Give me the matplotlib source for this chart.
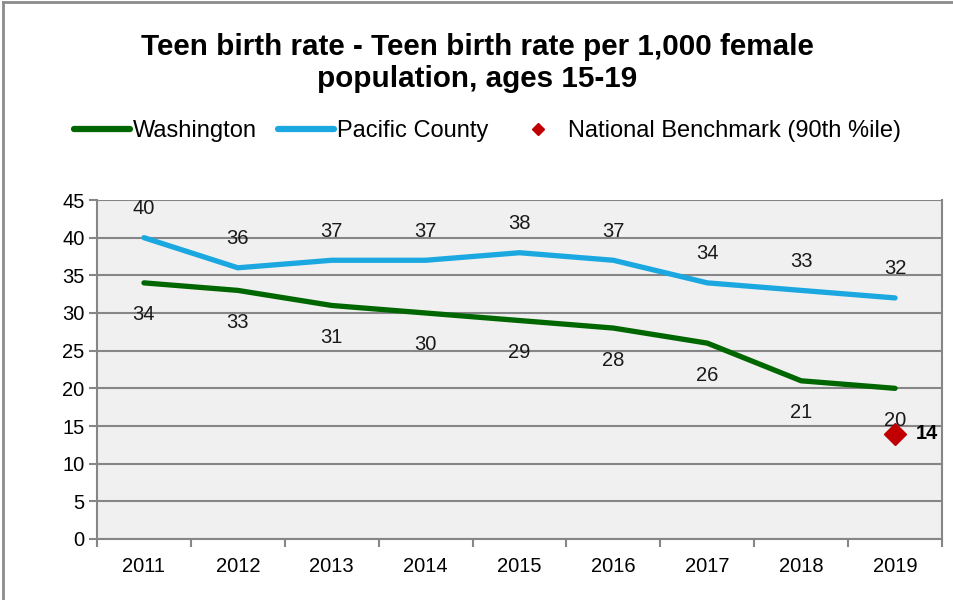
import matplotlib.pyplot as plt
from matplotlib.lines import Line2D

years = ["2011", "2012", "2013", "2014", "2015", "2016", "2017", "2018", "2019"]
washington = [34, 33, 31, 30, 29, 28, 26, 21, 20]
pacific = [40, 36, 37, 37, 38, 37, 34, 33, 32]
benchmark_year = "2019"
benchmark = 14

green = "#006600"
blue = "#1BA8E0"
red = "#C00000"
grid_gray = "#868686"

plt.rcParams["font.family"] = ["Liberation Sans", "DejaVu Sans"]

fig = plt.figure(figsize=(9.54, 6.0), dpi=100)
ax = fig.add_axes([97 / 954, 1 - 539 / 600, 845 / 954, 339 / 600])

x = list(range(len(years)))
ax.plot(x, pacific, color=blue, lw=3.8, solid_capstyle="round", zorder=3)
ax.plot(x, washington, color=green, lw=3.8, solid_capstyle="round", zorder=3)
bx = years.index(benchmark_year)
ax.plot([bx], [benchmark], marker="D", color=red, ms=11, ls="none", zorder=4)

for i, v in enumerate(pacific):
    ax.annotate(str(v), (i, v), xytext=(0, 21), textcoords="offset points",
                ha="center", va="center", fontsize=14.5, color="#1a1a1a")
for i, v in enumerate(washington):
    ax.annotate(str(v), (i, v), xytext=(0, -23), textcoords="offset points",
                ha="center", va="center", fontsize=14.5, color="#1a1a1a")
ax.annotate(str(benchmark), (bx, benchmark), xytext=(15, 0), textcoords="offset points",
            ha="left", va="center", fontsize=14.5, fontweight="bold", color="black")

ax.set_xlim(-0.5, len(years) - 0.5)
ax.set_ylim(0, 45)
ax.set_yticks(range(0, 46, 5))
ax.set_xticks(x)
ax.set_xticklabels(years)
ax.set_xticks([i - 0.5 for i in range(len(years) + 1)], minor=True)
ax.tick_params(axis="x", which="major", length=0, pad=13, labelsize=14.5)
ax.tick_params(axis="x", which="minor", length=6, width=1.5, color=grid_gray)
ax.tick_params(axis="y", length=6, width=1.5, color=grid_gray, labelsize=14.5, pad=3)

ax.set_facecolor("#F0F0F0")
ax.grid(axis="y", color=grid_gray, lw=1.5)
ax.set_axisbelow(True)
for side in ["left", "bottom", "right"]:
    ax.spines[side].set_color(grid_gray)
    ax.spines[side].set_linewidth(1.5)
ax.spines["top"].set_visible(False)

fig.text(0.5, 1 - 47 / 600, "Teen birth rate - Teen birth rate per 1,000 female",
         ha="center", va="center", fontsize=21.3, fontweight="bold")
fig.text(0.5, 1 - 79 / 600, "population, ages 15-19",
         ha="center", va="center", fontsize=21.3, fontweight="bold")

handles = [
    Line2D([], [], color=green, lw=4.5, solid_capstyle="round"),
    Line2D([], [], color=blue, lw=4.5, solid_capstyle="round"),
    Line2D([], [], color=red, marker="D", ms=6, ls="none"),
]
labels = ["Washington", "Pacific County", "National Benchmark (90th %ile)"]
fig.legend(handles, labels, loc="center", bbox_to_anchor=(0.511, 1 - 131 / 600),
           ncol=3, frameon=False, fontsize=17, handlelength=2.4, handletextpad=0.1,
           columnspacing=0.9)

# gray frame on the left and top edges
fig.add_artist(Line2D([3 / 954, 3 / 954], [0, 1 - 2 / 600], color="#8c8c8c", lw=2,
                      transform=fig.transFigure))
fig.add_artist(Line2D([3 / 954, 1], [1 - 2 / 600, 1 - 2 / 600], color="#8c8c8c", lw=2,
                      transform=fig.transFigure))

fig.savefig("out.png", dpi=100, facecolor="white")
